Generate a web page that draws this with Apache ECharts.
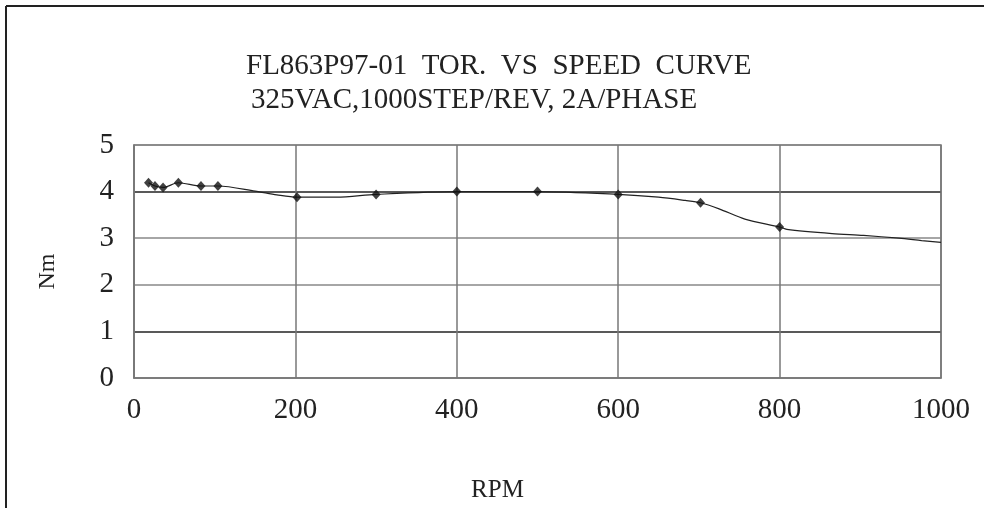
<!DOCTYPE html>
<html>
<head>
<meta charset="utf-8">
<script src="https://cdn.jsdelivr.net/npm/echarts@6/dist/echarts.min.js"></script>
<style>html,body{margin:0;padding:0;background:#fff}#c{width:984px;height:508px}</style>
</head>
<body>
<div id="c"></div>
<script>
// Measured points (diamond markers)
var rpmMeasured = [18, 26, 36, 55, 83, 104, 202, 300, 400, 500, 600, 702, 800];
var torqueMeasured = [4.19, 4.12, 4.09, 4.19, 4.12, 4.12, 3.88, 3.94, 4.00, 4.00, 3.94, 3.76, 3.24];
// Curve through the points (line only)
var rpmCurve = [18, 26, 36, 55, 83, 104, 150, 177, 202, 251, 300, 400, 500, 600, 650, 683, 702, 725, 757, 800, 809, 865, 904, 948, 976, 1000];
var torqueCurve = [4.19, 4.12, 4.09, 4.19, 4.12, 4.12, 4.01, 3.93, 3.88, 3.88, 3.94, 4.00, 4.00, 3.94, 3.88, 3.81, 3.76, 3.63, 3.41, 3.24, 3.19, 3.10, 3.06, 3.00, 2.95, 2.91];
var xTicks = [0, 200, 400, 600, 800, 1000];
var yTicks = [0, 1, 2, 3, 4, 5];
var titleLine1 = 'FL863P97-01  TOR.  VS  SPEED  CURVE';
var titleLine2 = '325VAC,1000STEP/REV, 2A/PHASE';

var FONT = '"Liberation Serif", "Times New Roman", serif';
var chart = echarts.init(document.getElementById('c'), null, {renderer: 'canvas'});
chart.setOption({
  animation: false,
  backgroundColor: '#fff',
  textStyle: {fontFamily: FONT, color: '#222'},
  title: [
    {text: titleLine1, left: 241, top: 47, textStyle: {fontFamily: FONT, fontSize: 29, fontWeight: 'normal', color: '#222'}},
    {text: titleLine2, left: 246, top: 81, textStyle: {fontFamily: FONT, fontSize: 29, fontWeight: 'normal', color: '#222'}}
  ],
  grid: {left: 134, right: 43, top: 145, bottom: 130, show: true, borderColor: '#777', borderWidth: 1.5, backgroundColor: 'transparent'},
  xAxis: {
    type: 'value', min: xTicks[0], max: xTicks[xTicks.length - 1], interval: 200,
    name: 'RPM', nameLocation: 'middle', nameGap: 100,
    nameTextStyle: {fontFamily: FONT, fontSize: 25, color: '#222', padding: [0, 80, 0, 0]},
    axisLine: {show: true, lineStyle: {color: '#777', width: 1.5}},
    axisTick: {show: false},
    axisLabel: {fontFamily: FONT, fontSize: 29, color: '#222', margin: 18, formatter: function (v) { return String(v); }},
    splitLine: {show: true, lineStyle: {color: '#777', width: 1.5}}
  },
  yAxis: {
    type: 'value', min: yTicks[0], max: yTicks[yTicks.length - 1], interval: 1,
    name: 'Nm', nameLocation: 'middle', nameGap: 74, nameRotate: 90,
    nameTextStyle: {fontFamily: FONT, fontSize: 24, color: '#222', padding: [0, 20, 0, 0]},
    axisLine: {show: true, lineStyle: {color: '#777', width: 1.5}},
    axisTick: {show: false},
    axisLabel: {fontFamily: FONT, fontSize: 29, color: '#222', margin: 20},
    splitLine: {show: true, lineStyle: {color: ['#888', '#222', '#888', '#888', '#222', '#888'], width: 1.5}}
  },
  graphic: [
    {type: 'line', shape: {x1: 6, y1: 6, x2: 984, y2: 6}, style: {stroke: '#222', lineWidth: 2}},
    {type: 'line', shape: {x1: 6, y1: 6, x2: 6, y2: 508}, style: {stroke: '#222', lineWidth: 2}}
  ],
  series: [
    {
      type: 'line', data: rpmCurve.map(function (r, i) { return [r, torqueCurve[i]]; }),
      showSymbol: false, symbol: 'none', smooth: 0.3,
      lineStyle: {color: '#222', width: 1.2}, z: 3
    },
    {
      type: 'scatter', data: rpmMeasured.map(function (r, i) { return [r, torqueMeasured[i]]; }),
      symbol: 'diamond', symbolSize: [9, 10],
      itemStyle: {color: '#111'}, z: 4
    }
  ]
});
</script>
</body>
</html>
